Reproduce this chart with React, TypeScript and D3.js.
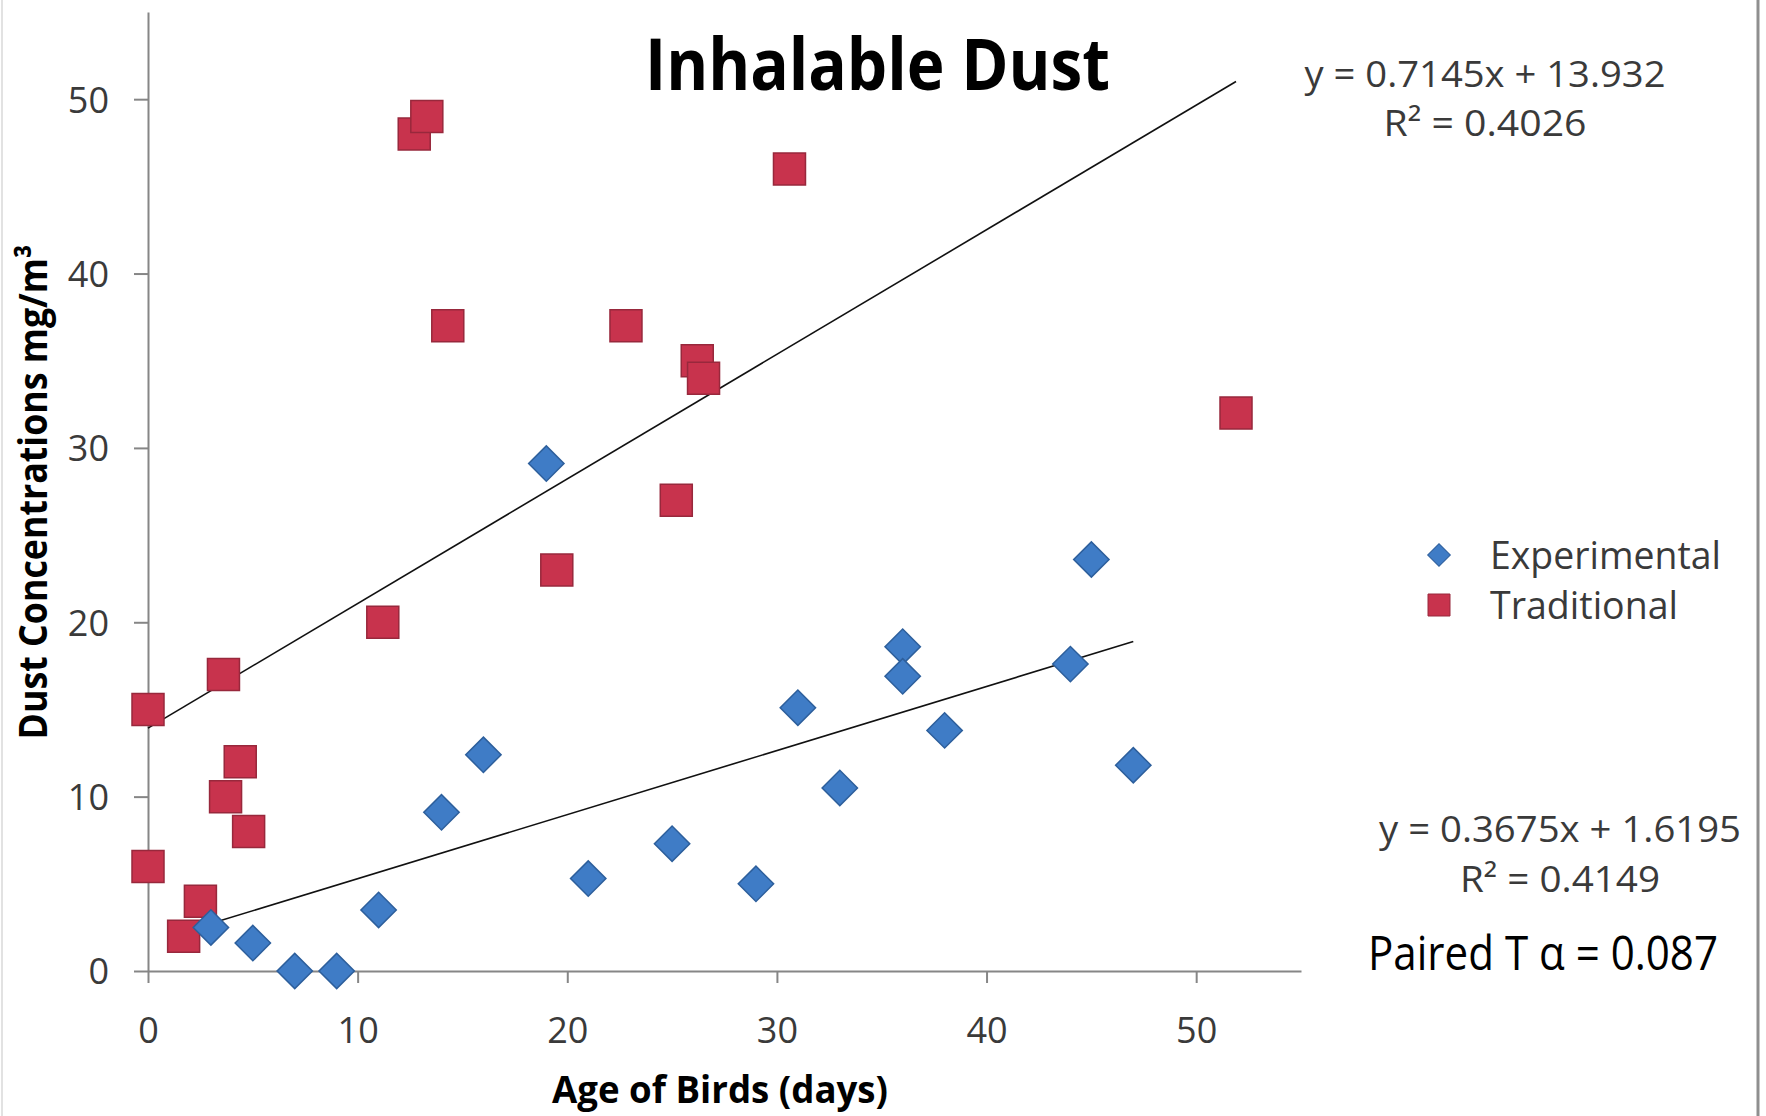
import React, { useEffect, useRef } from 'react';
import * as d3 from 'd3';

// data
const expAge = [3, 5, 7, 9, 11, 14, 16, 19, 21, 25, 29, 31, 33, 36, 36, 38, 44, 45, 47];
const expDust = [2.5, 1.6, 0, 0, 3.5, 9.1, 12.4, 29.1, 5.3, 7.3, 5.0, 15.1, 10.5, 18.6, 16.9, 13.8, 17.6, 23.6, 11.8];
const tradAge = [0, 0, 1.7, 2.5, 3.6, 3.7, 4.4, 4.8, 11.2, 12.7, 13.3, 14.3, 19.5, 22.8, 25.2, 26.2, 26.5, 30.6, 51.9];
const tradDust = [15, 6, 2, 4, 17, 10, 12, 8, 20, 48, 49, 37, 23, 37, 27, 35, 34, 46, 32];

const seriesNames = ['Experimental', 'Traditional'];
const trendSlope = [0.3675, 0.7145];
const trendIntercept = [1.6195, 13.932];
const trendEquations = ['y = 0.3675x + 1.6195', 'y = 0.7145x + 13.932'];
const trendR2 = ['R² = 0.4149', 'R² = 0.4026'];
const xTicks = [0, 10, 20, 30, 40, 50];
const yTicks = [0, 10, 20, 30, 40, 50];

const W = 1766;
const H = 1116;
const FONT = "'Open Sans', 'Noto Sans', sans-serif";

function DustChart() {
  const ref = useRef<SVGSVGElement>(null);

  useEffect(() => {
    drawChart();
  }, []);

  function drawChart() {
    const svg = d3.select(ref.current);
    svg.selectAll('*').remove();

    // plot area
    const x = d3.scaleLinear().domain([0, 55]).range([148, 1301]);
    const y = d3.scaleLinear().domain([0, 55]).range([971, 12]);

    svg.append('rect').attr('width', W).attr('height', H).attr('fill', '#fff');
    // chart border bits
    svg.append('line').attr('x1', 1758).attr('x2', 1758).attr('y1', 0).attr('y2', H)
      .attr('stroke', '#8f8f8f').attr('stroke-width', 3);
    svg.append('line').attr('x1', 2).attr('x2', 2).attr('y1', 0).attr('y2', H)
      .attr('stroke', '#e2e2e2').attr('stroke-width', 2);

    //axes
    const yAxis = svg.append('g')
      .attr('transform', `translate(${x(0)},0)`)
      .call(d3.axisLeft(y).tickValues(yTicks).tickSize(14).tickSizeOuter(0).tickPadding(25));
    const xAxis = svg.append('g')
      .attr('transform', `translate(0,${y(0)})`)
      .call(d3.axisBottom(x).tickValues(xTicks).tickSize(12).tickSizeOuter(0));

    [yAxis, xAxis].forEach(g => {
      g.select('.domain').attr('stroke', '#868686').attr('stroke-width', 2);
      g.selectAll('.tick line').attr('stroke', '#868686').attr('stroke-width', 2);
      g.selectAll('.tick text')
        .attr('fill', '#3a3a3a')
        .style('font-family', FONT)
        .style('font-size', '36px');
    });
    xAxis.selectAll('.tick text').attr('y', 72).attr('dy', 0);
    yAxis.selectAll('.tick text').attr('dy', '0.36em');

    // trendlines
    const line = d3.line<number>()
      .x(d => d[0])
      .y(d => d[1]);
    const ages = [expAge, tradAge];
    ages.forEach((ag, i) => {
      const x0 = d3.min(ag) as number;
      const x1 = d3.max(ag) as number;
      const pts = [x0, x1].map(v => [x(v), y(trendSlope[i] * v + trendIntercept[i])]);
      svg.append('path')
        .attr('d', line(pts as any))
        .attr('fill', 'none')
        .attr('stroke', '#111')
        .attr('stroke-width', 1.6);
    });

    // traditional squares
    const sq = d3.symbol().type(d3.symbolSquare).size(32 * 32);
    svg.append('g').selectAll('path')
      .data(tradAge.map((a, i) => [a, tradDust[i]]))
      .join('path')
      .attr('d', sq())
      .attr('transform', d => `translate(${x(d[0])},${y(d[1])})`)
      .attr('fill', '#c8334d')
      .attr('stroke', '#98283c')
      .attr('stroke-width', 1.5);

    // experimental diamonds (square turned 45deg)
    const dia = d3.symbol().type(d3.symbolSquare).size(25 * 25);
    svg.append('g').selectAll('path')
      .data(expAge.map((a, i) => [a, expDust[i]]))
      .join('path')
      .attr('d', dia())
      .attr('transform', d => `translate(${x(d[0])},${y(d[1])}) rotate(45)`)
      .attr('fill', '#3f7cc6')
      .attr('stroke', '#2d5f9c')
      .attr('stroke-width', 1.5);

    // title
    svg.append('text')
      .attr('x', 645).attr('y', 90)
      .attr('textLength', 465).attr('lengthAdjust', 'spacingAndGlyphs')
      .style('font-family', FONT).style('font-weight', 700).style('font-size', '71px')
      .attr('fill', '#000')
      .text('Inhalable Dust');

    // axis titles
    svg.append('text')
      .attr('transform', 'translate(47,492) rotate(-90)')
      .attr('text-anchor', 'middle')
      .attr('textLength', 495).attr('lengthAdjust', 'spacingAndGlyphs')
      .style('font-family', FONT).style('font-weight', 700).style('font-size', '39px')
      .attr('fill', '#000')
      .text('Dust Concentrations mg/m³');
    svg.append('text')
      .attr('x', 720).attr('y', 1103)
      .attr('text-anchor', 'middle')
      .attr('textLength', 336).attr('lengthAdjust', 'spacingAndGlyphs')
      .style('font-family', FONT).style('font-weight', 700).style('font-size', '38px')
      .attr('fill', '#000')
      .text('Age of Birds  (days)');

    // trend labels
    const eqPos = [
      { cx: 1560, y1: 842, y2: 892, w1: 362, w2: 200 },
      { cx: 1485, y1: 87, y2: 136, w1: 361, w2: 203 },
    ];
    eqPos.forEach((p, i) => {
      svg.append('text')
        .attr('x', p.cx).attr('y', p.y1).attr('text-anchor', 'middle')
        .attr('textLength', p.w1).attr('lengthAdjust', 'spacingAndGlyphs')
        .style('font-family', FONT).style('font-size', '37px')
        .attr('fill', '#3a3a3a')
        .text(trendEquations[i]);
      svg.append('text')
        .attr('x', p.cx).attr('y', p.y2).attr('text-anchor', 'middle')
        .attr('textLength', p.w2).attr('lengthAdjust', 'spacingAndGlyphs')
        .style('font-family', FONT).style('font-size', '37px')
        .attr('fill', '#3a3a3a')
        .text(trendR2[i]);
    });

    svg.append('text')
      .attr('x', 1368).attr('y', 970)
      .attr('textLength', 350).attr('lengthAdjust', 'spacingAndGlyphs')
      .style('font-family', FONT).style('font-size', '47px')
      .attr('fill', '#000')
      .text('Paired T α = 0.087');

    // legend
    const legY = [555, 605];
    const legW = [231, 188];
    const lg = svg.append('g');
    lg.append('path')
      .attr('d', d3.symbol().type(d3.symbolSquare).size(16 * 16)())
      .attr('transform', `translate(1439,${legY[0]}) rotate(45)`)
      .attr('fill', '#3f7cc6').attr('stroke', '#2d5f9c');
    lg.append('path')
      .attr('d', d3.symbol().type(d3.symbolSquare).size(22 * 22)())
      .attr('transform', `translate(1439,${legY[1]})`)
      .attr('fill', '#c8334d').attr('stroke', '#98283c');
    seriesNames.forEach((n, i) => {
      lg.append('text')
        .attr('x', 1490).attr('y', legY[i]).attr('dy', '0.36em')
        .attr('textLength', legW[i]).attr('lengthAdjust', 'spacingAndGlyphs')
        .style('font-family', FONT).style('font-size', '38px')
        .attr('fill', '#3a3a3a')
        .text(n);
    });
  }

  return (
    <svg
      ref={ref}
      width={W}
      height={H}
      style={{ position: 'absolute', left: 0, top: 0, display: 'block' }}
    />
  );
}

export default function App() {
  return <DustChart />;
}
